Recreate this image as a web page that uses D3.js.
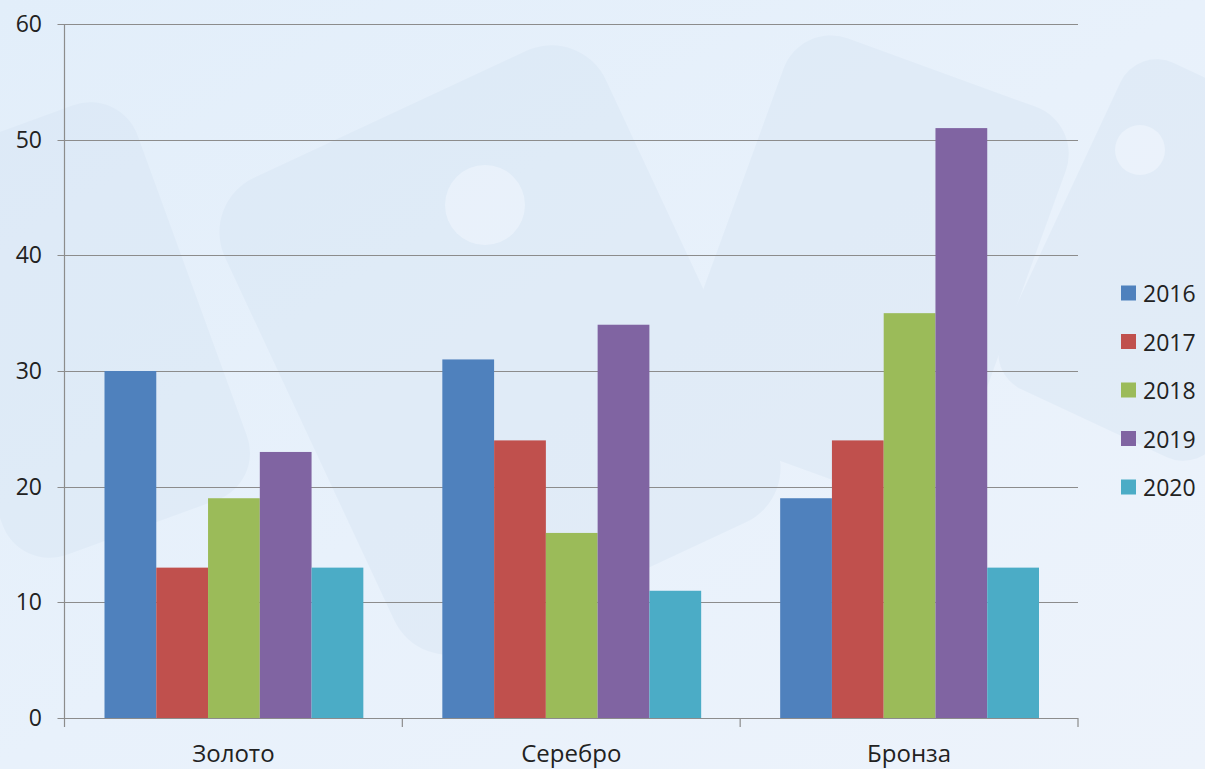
<!DOCTYPE html>
<html><head><meta charset="utf-8">
<script src="https://cdn.jsdelivr.net/npm/d3@7"></script>
<style>
html,body{margin:0;padding:0;overflow:hidden;}
body{width:1205px;height:769px;}
</style></head>
<body>
<svg id="chart" width="1205" height="769"></svg>
<script>
const categories = ["Золото", "Серебро", "Бронза"];
const seriesNames = ["2016", "2017", "2018", "2019", "2020"];
const values2016 = [30, 31, 19];
const values2017 = [13, 24, 24];
const values2018 = [19, 16, 35];
const values2019 = [23, 34, 51];
const values2020 = [13, 11, 13];
const yTicks = [0, 10, 20, 30, 40, 50, 60];
const colors = ["#4F81BD", "#C0504D", "#9BBB59", "#8064A2", "#4BACC6"];

const seriesValues = [values2016, values2017, values2018, values2019, values2020];

const svg = d3.select("#chart");
const W = 1205, H = 769;

// background
const defs = svg.append("defs");
const grad = defs.append("linearGradient").attr("id","bg").attr("x1","0").attr("y1","0").attr("x2","1").attr("y2","1");
grad.append("stop").attr("offset","0%").attr("stop-color","#e2eefa");
grad.append("stop").attr("offset","50%").attr("stop-color","#e8f1fb");
grad.append("stop").attr("offset","100%").attr("stop-color","#edf3fb");
svg.append("rect").attr("width",W).attr("height",H).attr("fill","url(#bg)");
// faint decorative shapes
const deco = svg.append("g").attr("fill","#d6e4f3").attr("opacity",0.4);
deco.append("rect").attr("x",290).attr("y",90).attr("width",420).attr("height",520).attr("rx",60).attr("transform","rotate(-25 500 350)");
deco.append("rect").attr("x",720).attr("y",60).attr("width",300).attr("height",420).attr("rx",50).attr("transform","rotate(20 870 270)");
deco.append("rect").attr("x",-60).attr("y",120).attr("width",260).attr("height",420).attr("rx",50).attr("transform","rotate(-20 70 330)");
deco.append("rect").attr("x",1050).attr("y",80).attr("width",240).attr("height",360).attr("rx",40).attr("transform","rotate(25 1170 260)");
deco.append("circle").attr("cx",485).attr("cy",205).attr("r",40).attr("fill","#eef4fb");
deco.append("circle").attr("cx",1140).attr("cy",150).attr("r",25).attr("fill","#eef4fb");

const pLeft = 64.5, pRight = 1078, pTop = 24, pBottom = 718;

const x0 = d3.scaleBand().domain(categories).range([pLeft, pRight]).paddingInner(0).paddingOuter(0);
const x1 = d3.scaleBand().domain(seriesNames).range([40, x0.bandwidth() - 39]).padding(0);
const y = d3.scaleLinear().domain([0, 60]).range([pBottom, pTop]);

const font = "'Open Sans', 'Liberation Sans', sans-serif";

// gridlines
svg.append("g").selectAll("line").data(yTicks).join("line")
  .attr("x1", pLeft - 7).attr("x2", pRight)
  .attr("y1", d => Math.round(y(d)) + 0.5).attr("y2", d => Math.round(y(d)) + 0.5)
  .attr("stroke", "#8c8c8c").attr("stroke-width", 1.2);

// y axis line
svg.append("line").attr("x1", pLeft).attr("x2", pLeft).attr("y1", pTop).attr("y2", pBottom)
  .attr("stroke", "#8c8c8c").attr("stroke-width", 1.2);

// y labels
svg.append("g").selectAll("text").data(yTicks).join("text")
  .attr("x", 42).attr("y", d => y(d) + 8)
  .attr("text-anchor", "end").attr("font-family", font).attr("font-size", 23)
  .attr("fill", "#222").text(d => d);

// bars
const gCat = svg.append("g").selectAll("g").data(categories).join("g")
  .attr("transform", c => `translate(${x0(c)},0)`);
gCat.selectAll("rect").data((c, i) => seriesNames.map((s, j) => ({s, v: seriesValues[j][i], j})))
  .join("rect")
  .attr("x", d => x1(d.s)).attr("width", x1.bandwidth())
  .attr("y", d => y(d.v)).attr("height", d => y(0) - y(d.v))
  .attr("fill", d => colors[d.j]);

// x axis baseline and ticks
svg.append("line").attr("x1", pLeft).attr("x2", pRight).attr("y1", pBottom + 0.5).attr("y2", pBottom + 0.5)
  .attr("stroke", "#8c8c8c").attr("stroke-width", 1.2);
const tickXs = categories.map(c => x0(c)).concat([pRight]);
svg.append("g").selectAll("line").data(tickXs).join("line")
  .attr("x1", d => d).attr("x2", d => d).attr("y1", pBottom).attr("y2", pBottom + 9)
  .attr("stroke", "#8c8c8c").attr("stroke-width", 1.2);

// category labels
svg.append("g").selectAll("text").data(categories).join("text")
  .attr("x", c => x0(c) + x0.bandwidth() / 2).attr("y", 762)
  .attr("text-anchor", "middle").attr("font-family", font).attr("font-size", 24)
  .attr("fill", "#222").text(c => c);

// legend
const lg = svg.append("g").selectAll("g").data(seriesNames).join("g")
  .attr("transform", (s, i) => `translate(1121, ${293 + i * 48.5})`);
lg.append("rect").attr("x", 0).attr("y", -7.5).attr("width", 15).attr("height", 15)
  .attr("fill", (s, i) => colors[i]);
lg.append("text").attr("x", 22).attr("y", 9)
  .attr("font-family", font).attr("font-size", 23).attr("fill", "#222").text(s => s);
</script>
</body></html>
